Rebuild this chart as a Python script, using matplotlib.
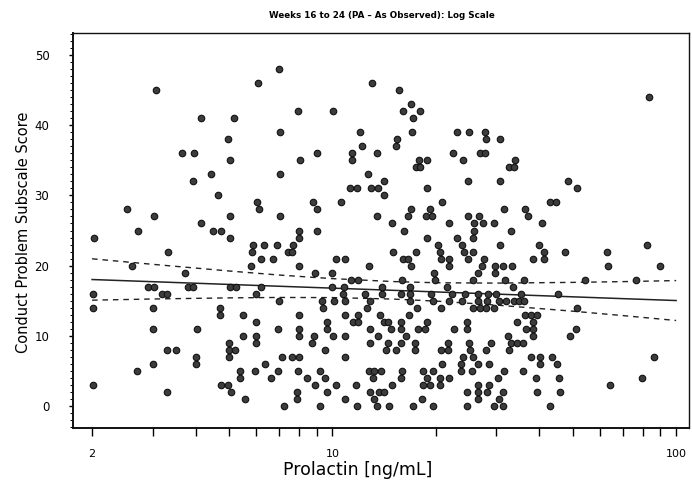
import numpy as np
import matplotlib
matplotlib.use("Agg")
import matplotlib.pyplot as plt
from matplotlib.ticker import LogLocator, NullFormatter, FixedLocator, MultipleLocator

# Prolactin (ng/mL) and conduct problem subscale score, one line per score level
prolactin = [
    7.00,
    6.08, 13.05,
    3.07, 15.64,
    83.5,
    16.95,
    7.95, 10.05, 16.06, 18.00,
    4.15, 5.18, 17.18,
    7.05, 12.04, 17.06, 23.07, 25.00, 27.83,
    4.97, 15.43, 28.01, 30.77,
    12.21, 15.33,
    3.66, 3.96, 9.03, 11.42, 13.50, 22.46, 26.91, 27.83,
    5.04, 8.06, 11.42, 17.88, 18.87, 24.01, 34.02,
    17.53, 18.00, 32.68, 33.79,
    4.44, 7.05, 12.70,
    3.93, 14.15, 24.84, 30.77, 48.5,
    11.26, 11.80, 12.97, 13.59, 18.87, 51.5,
    4.65, 14.15,
    6.04, 8.79, 10.60, 20.86, 43.0, 44.8,
    2.53, 6.12, 9.03, 16.95, 19.25, 31.60, 36.38,
    3.03, 5.04, 7.05, 13.50, 16.61, 18.74, 19.51, 24.84, 26.73, 37.12,
    4.15, 14.92, 21.86, 25.85, 27.45, 29.56, 40.76,
    2.72, 4.50, 4.75, 8.00, 9.03, 16.17, 25.85, 33.12,
    2.03, 5.04, 8.00, 18.87, 23.07, 25.68,
    5.88, 6.33, 6.91, 7.69, 20.31, 23.85, 30.77, 39.95, 82.4,
    3.33, 5.84, 7.44, 7.64, 15.02, 17.53, 20.58, 24.18, 25.68, 41.32, 47.55, 63.0,
    6.20, 6.72, 10.26, 10.89, 16.06, 16.61, 20.72, 21.86, 24.84, 27.64, 38.38, 41.32,
    2.61, 5.80, 8.00, 12.79, 16.95, 21.86, 27.27, 29.75, 31.39, 33.34, 63.4, 89.9,
    3.73, 8.91, 9.98, 19.77, 26.55, 29.75,
    11.34, 11.88, 15.96, 19.91, 25.68, 31.82, 36.13, 54.4, 76.5,
    2.91, 3.03, 3.81, 3.93, 5.04, 5.25, 6.20, 9.98, 10.82, 13.96, 16.84, 21.57, 33.57,
    2.01, 3.20, 3.31, 6.00, 10.75, 12.45, 13.96, 15.85, 16.84, 19.38, 22.31, 24.34, 26.55, 28.39, 29.95, 35.41, 45.37,
    7.00, 9.34, 10.12, 10.89, 12.88, 16.84, 19.64, 21.86, 23.85, 26.55, 28.20, 30.56, 32.03, 33.79, 34.94, 36.13,
    2.01, 3.01, 4.71, 9.40, 12.62, 17.64, 20.72, 25.68, 26.91, 28.01, 29.56, 51.5,
    4.71, 5.50, 8.00, 10.89, 11.88, 13.77, 16.72, 36.38, 37.87, 39.42,
    6.00, 9.66, 11.49, 11.88, 14.15, 14.53, 15.85, 18.87, 24.67, 34.49, 38.38,
    3.01, 4.04, 6.95, 8.00, 9.66, 12.88, 14.82, 15.85, 17.76, 18.62, 22.61, 24.67, 36.62, 38.38, 51.2,
    5.50, 6.00, 8.00, 8.85, 10.05, 10.89, 13.59, 16.39, 32.46, 38.38, 49.2,
    5.01, 6.00, 8.73, 12.88, 14.53, 15.85, 17.41, 21.72, 25.00, 28.97, 33.12, 34.49, 35.89,
    3.31, 3.51, 5.01, 5.21, 9.53, 14.34, 15.33, 17.41, 20.72, 21.72, 25.17, 28.01, 32.68,
    4.01, 5.01, 7.14, 7.64, 8.00, 10.89, 24.01, 25.68, 37.87, 40.22, 43.6, 86.3,
    3.01, 4.01, 6.37, 20.86, 23.69, 26.55, 28.58, 40.22, 45.07,
    2.70, 5.39, 5.96, 6.95, 7.95, 9.21, 12.79, 13.23, 13.86, 15.96, 18.37, 19.64, 23.69, 25.50, 31.60, 35.89,
    5.39, 6.63, 8.44, 9.53, 13.14, 15.85, 18.87, 20.58, 21.86, 30.36, 39.16, 45.68, 79.7,
    2.01, 4.75, 4.97, 8.91, 10.26, 11.73, 14.92, 18.37, 19.25, 20.58, 26.55, 28.58, 64.3,
    3.31, 5.07, 7.90, 9.66, 12.88, 13.68, 14.15, 24.67, 26.55, 28.20, 31.39, 39.42, 45.99,
    5.57, 7.90, 10.89, 13.23, 18.24, 26.55, 30.56,
    7.24, 9.21, 11.80, 13.50, 14.63, 17.18, 19.64, 24.67, 29.56, 31.39, 43.0,
]

score = [
    48,
    46, 46,
    45, 45,
    44,
    43,
    42, 42, 42, 42,
    41, 41, 41,
    39, 39, 39, 39, 39, 39,
    38, 38, 38, 38,
    37, 37,
    36, 36, 36, 36, 36, 36, 36, 36,
    35, 35, 35, 35, 35, 35, 35,
    34, 34, 34, 34,
    33, 33, 33,
    32, 32, 32, 32, 32,
    31, 31, 31, 31, 31, 31,
    30, 30,
    29, 29, 29, 29, 29, 29,
    28, 28, 28, 28, 28, 28, 28,
    27, 27, 27, 27, 27, 27, 27, 27, 27, 27,
    26, 26, 26, 26, 26, 26, 26,
    25, 25, 25, 25, 25, 25, 25, 25,
    24, 24, 24, 24, 24, 24,
    23, 23, 23, 23, 23, 23, 23, 23, 23,
    22, 22, 22, 22, 22, 22, 22, 22, 22, 22, 22, 22,
    21, 21, 21, 21, 21, 21, 21, 21, 21, 21, 21, 21,
    20, 20, 20, 20, 20, 20, 20, 20, 20, 20, 20, 20,
    19, 19, 19, 19, 19, 19,
    18, 18, 18, 18, 18, 18, 18, 18, 18,
    17, 17, 17, 17, 17, 17, 17, 17, 17, 17, 17, 17, 17,
    16, 16, 16, 16, 16, 16, 16, 16, 16, 16, 16, 16, 16, 16, 16, 16, 16,
    15, 15, 15, 15, 15, 15, 15, 15, 15, 15, 15, 15, 15, 15, 15, 15,
    14, 14, 14, 14, 14, 14, 14, 14, 14, 14, 14, 14,
    13, 13, 13, 13, 13, 13, 13, 13, 13, 13,
    12, 12, 12, 12, 12, 12, 12, 12, 12, 12, 12,
    11, 11, 11, 11, 11, 11, 11, 11, 11, 11, 11, 11, 11, 11, 11,
    10, 10, 10, 10, 10, 10, 10, 10, 10, 10, 10,
    9, 9, 9, 9, 9, 9, 9, 9, 9, 9, 9, 9, 9,
    8, 8, 8, 8, 8, 8, 8, 8, 8, 8, 8, 8, 8,
    7, 7, 7, 7, 7, 7, 7, 7, 7, 7, 7, 7,
    6, 6, 6, 6, 6, 6, 6, 6, 6,
    5, 5, 5, 5, 5, 5, 5, 5, 5, 5, 5, 5, 5, 5, 5, 5,
    4, 4, 4, 4, 4, 4, 4, 4, 4, 4, 4, 4, 4,
    3, 3, 3, 3, 3, 3, 3, 3, 3, 3, 3, 3, 3,
    2, 2, 2, 2, 2, 2, 2, 2, 2, 2, 2, 2, 2,
    1, 1, 1, 1, 1, 1, 1,
    0, 0, 0, 0, 0, 0, 0, 0, 0, 0, 0,
]

# Fitted regression line and its confidence limits
fit_x = [2, 3, 5, 7, 10, 15, 20, 30, 50, 70, 100]
fit_y = [18.00, 17.69, 17.30, 17.04, 16.77, 16.46, 16.23, 15.92, 15.53, 15.27, 15.00]
fit_upper = [20.96, 20.17, 19.22, 18.64, 18.13, 17.71, 17.54, 17.49, 17.59, 17.70, 17.85]
fit_lower = [15.05, 15.22, 15.38, 15.44, 15.42, 15.21, 14.92, 14.35, 13.48, 12.85, 12.15]

x_ticks = [2, 10, 100]
x_tick_labels = ["2", "10", "100"]
y_ticks = [0, 10, 20, 30, 40, 50]

title = "Weeks 16 to 24 (PA \u2013 As Observed): Log Scale"
x_label = "Prolactin [ng/mL]"
y_label = "Conduct Problem Subscale Score"

assert len(prolactin) == len(score)

plt.rcParams["font.family"] = ["DejaVu Sans"]

fig = plt.figure(figsize=(6.92, 4.92), dpi=100)
W, H = 692, 492
left, right, top, bottom = 73, 689, 33, 428
ax = fig.add_axes([left / W, 1 - bottom / H, (right - left) / W, (bottom - top) / H])

ax.set_xscale("log")
ax.set_xlim(1.76, 109)
ax.set_ylim(-3.2, 53.2)

ax.scatter(prolactin, score, s=22, facecolor="#3c3c3c", edgecolor="#111111",
           linewidth=0.8, zorder=3)

ax.plot(fit_x, fit_y, color="#222222", lw=1.1, zorder=2)
ax.plot(fit_x, fit_upper, color="#222222", lw=1.0, ls=(0, (4, 3.5)), zorder=2)
ax.plot(fit_x, fit_lower, color="#222222", lw=1.0, ls=(0, (4, 3.5)), zorder=2)

ax.xaxis.set_major_locator(FixedLocator(x_ticks))
ax.set_xticklabels(x_tick_labels)
ax.xaxis.set_minor_locator(LogLocator(base=10, subs=range(2, 10)))
ax.xaxis.set_minor_formatter(NullFormatter())
ax.set_yticks(y_ticks)
ax.yaxis.set_minor_locator(MultipleLocator(1))

ax.tick_params(axis="x", which="both", direction="out", length=6, width=1.0,
               pad=9, labelsize=8)
ax.tick_params(axis="y", which="major", direction="out", length=3, width=1.0,
               pad=14, labelsize=8.5)
ax.tick_params(axis="y", which="minor", direction="out", length=2, width=0.7)

for side, sp in ax.spines.items():
    sp.set_color("#111111")
    sp.set_linewidth(1.4 if side in ("left", "bottom") else 1.0)

fig.text(382 / W, 1 - 15 / H, title, ha="center", va="center",
         fontsize=6.3, fontweight="bold")
fig.text(358 / W, 1 - 470 / H, x_label, ha="center", va="center", fontsize=12.5)
fig.text(24 / W, 1 - 232 / H, y_label, ha="center", va="center",
         rotation=90, fontsize=10.5)

fig.savefig("out.png", dpi=100)
